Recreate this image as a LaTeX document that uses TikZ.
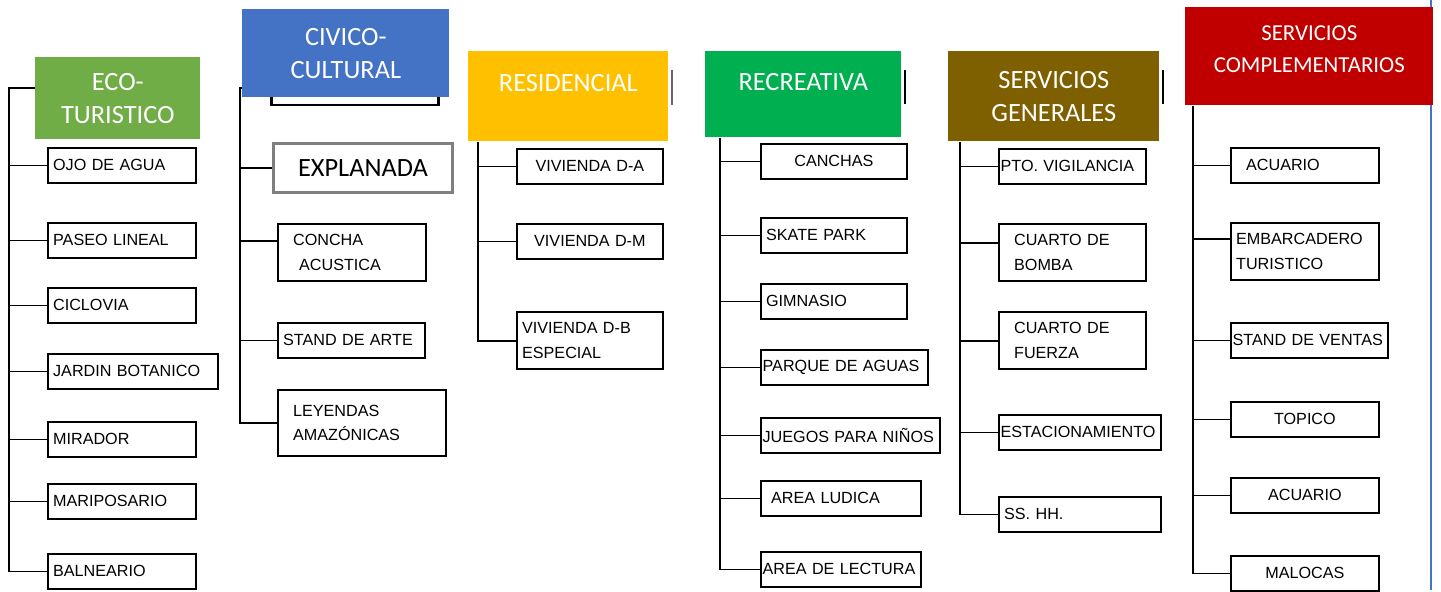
\documentclass[tikz,border=0pt]{standalone}
\usepackage{fontspec}
\usepackage{tikz}
\usetikzlibrary{positioning,calc}
\pgfdeclarelayer{bg}
\pgfsetlayers{bg,main}
\newfontfamily\headfont{Carlito}
\newfontfamily\itemfont{Liberation Sans}

\definecolor{ecogreen}{HTML}{70AD47}
\definecolor{civicblue}{HTML}{4472C4}
\definecolor{residgold}{HTML}{FFC000}
\definecolor{recregreen}{HTML}{00B050}
\definecolor{genbrown}{HTML}{7F6000}
\definecolor{compred}{HTML}{C00000}
\definecolor{expgray}{HTML}{7F7F7F}

\tikzset{
  head/.style={fill=#1, text=white, anchor=north west, align=center,
    inner sep=0pt, font=\headfont\fontsize{15}{19}\selectfont},
  item/.style={draw, line width=1pt, anchor=north west, align=left,
    inner xsep=3pt, inner ysep=1pt, minimum height=0.7cm, text width=#1,
    font=\itemfont\fontsize{9.2}{14}\selectfont},
  mid/.style={align=center},
  twoline/.style={minimum height=1.15cm},
  snug/.style={inner xsep=1pt},
  tree/.style={line width=1pt, color=black},
}

\begin{document}
\begin{tikzpicture}[x=0.02cm, y=-0.02cm]
  \begin{pgfonlayer}{bg}
    \fill[white, use as bounding box] (0,0) rectangle (1441,590);
    % what is left of the old title boxes
    \draw[line width=1.7pt] (271.5,80) rectangle (438.5,105);
    \draw[gray!80!black, line width=1pt] (672,70) -- (672,105);
    \draw[line width=1.1pt] (905,70) -- (905,104);
    \draw[line width=1.1pt] (1163,70) -- (1163,104);
    \draw[civicblue, line width=0.8pt] (1431,0) -- (1431,590);
  \end{pgfonlayer}

  % titles
  \node[head=ecogreen, minimum width=3.30cm, minimum height=1.64cm] (eco) at (35,57) {ECO-\\TURISTICO};
  \node[head=civicblue, minimum width=4.14cm, minimum height=1.76cm] (civico) at (242,9) {CIVICO-\\CULTURAL};
  \node[head=residgold, minimum width=4.00cm, minimum height=1.80cm] (resid) at (468,51) {RESIDENCIAL\\[-9pt]\strut};
  \node[head=recregreen, minimum width=3.92cm, minimum height=1.72cm] (recre) at (705,51) {RECREATIVA\\[-11pt]\strut};
  \node[head=genbrown, minimum width=4.22cm, minimum height=1.80cm] (servgen) at (948,51) {SERVICIOS\\GENERALES};
  \node[head=compred, minimum width=4.96cm, minimum height=1.96cm,
        font=\headfont\fontsize{13}{18}\selectfont] (servcomp) at (1185,7) {SERVICIOS\\COMPLEMENTARIOS\\[-15pt]\strut};

  % eco-turistico
  \node[item=2.75cm] (ojo) at (47,147) {OJO DE AGUA};
  \node[item=2.75cm] (paseo) at (47,222) {PASEO LINEAL};
  \node[item=2.75cm] (ciclovia) at (47,287) {CICLOVIA};
  \node[item=3.19cm] (jardin) at (47,353) {JARDIN BOTANICO};
  \node[item=2.75cm] (mirador) at (47,421) {MIRADOR};
  \node[item=2.75cm] (mariposario) at (47,483) {MARIPOSARIO};
  \node[item=2.75cm] (balneario) at (47,553) {BALNEARIO};

  % civico-cultural
  \node[draw=expgray, line width=1.7pt, anchor=north west, minimum width=3.58cm, minimum height=0.98cm,
        font=\headfont\fontsize{15}{18}\selectfont] (explanada) at (272,142) {EXPLANADA};
  \node[item=2.75cm, twoline] (concha) at (277,223) {\hspace*{0.2cm}CONCHA\\\hspace*{0.32cm}ACUSTICA};
  \node[item=2.73cm] (standarte) at (277,322) {STAND DE ARTE};
  \node[item=3.15cm, minimum height=1.32cm] (leyendas) at (277,389) {\hspace*{0.2cm}LEYENDAS\\\hspace*{0.2cm}AMAZÓNICAS};

  % residencial
  \node[item=2.71cm, mid] (viva) at (516,148) {VIVIENDA D-A};
  \node[item=2.71cm, mid] (vivm) at (516,223) {VIVIENDA D-M};
  \node[item=2.71cm, twoline] (vivb) at (516,311) {VIVIENDA D-B\\ESPECIAL};

  % recreativa
  \node[item=2.71cm, mid] (canchas) at (760,143) {CANCHAS};
  \node[item=2.71cm] (skate) at (760,217) {SKATE PARK};
  \node[item=2.71cm] (gimnasio) at (760,283) {GIMNASIO};
  \node[item=3.27cm, snug] (parque) at (760,349) {PARQUE~DE~AGUAS};
  \node[item=3.51cm, snug] (juegos) at (760,417) {JUEGOS~PARA~NIÑOS};
  \node[item=2.99cm] (ludica) at (760,480) {\hspace*{0.1cm}AREA LUDICA};
  \node[item=3.13cm, snug] (lectura) at (760,551) {AREA~DE~LECTURA};

  % servicios generales
  \node[item=2.87cm, snug] (vigilancia) at (998,148) {PTO.~VIGILANCIA};
  \node[item=2.73cm, twoline] (bomba) at (998,223) {\hspace*{0.2cm}CUARTO DE\\\hspace*{0.2cm}BOMBA};
  \node[item=2.73cm, twoline] (fuerza) at (998,311) {\hspace*{0.2cm}CUARTO DE\\\hspace*{0.2cm}FUERZA};
  \node[item=3.17cm, snug] (estac) at (998,414) {ESTACIONAMIENTO};
  \node[item=3.03cm] (sshh) at (998,496) {SS. HH.};

  % servicios complementarios
  \node[item=2.75cm] (acuario) at (1230,147) {\hspace*{0.2cm}ACUARIO};
  \node[item=2.75cm, twoline] (embarcadero) at (1230,222) {EMBARCADERO\\TURISTICO};
  \node[item=3.07cm, snug] (standventas) at (1230,322) {STAND~DE~VENTAS};
  \node[item=2.75cm, mid] (topico) at (1230,401) {TOPICO};
  \node[item=2.75cm, mid] (acuariob) at (1230,477) {ACUARIO};
  \node[item=2.75cm, mid] (malocas) at (1230,555) {MALOCAS};

  % the trees
  \begin{pgfonlayer}{bg}
    \coordinate (s1) at (9,88);
    \draw[tree] (eco.west |- s1) -- (s1) |- (balneario.west);
    \foreach \n in {ojo,paseo,ciclovia,jardin,mirador,mariposario}
      \draw[tree] (s1 |- \n.west) -- (\n.west);

    \coordinate (s2) at (240,88);
    \coordinate (c2) at ([yshift=0.23cm]concha.west);
    \draw[tree] (civico.west |- s2) -- (s2) |- (leyendas.west);
    \draw[tree] (s2 |- c2) -- (c2);
    \foreach \n in {explanada,standarte}
      \draw[tree] (s2 |- \n.west) -- (\n.west);

    \coordinate (s3) at ([xshift=0.2cm]resid.south west);
    \draw[tree] (s3) |- (vivb.west);
    \foreach \n in {viva,vivm}
      \draw[tree] (s3 |- \n.west) -- (\n.west);

    \coordinate (s4) at ([xshift=0.3cm]recre.south west);
    \draw[tree] (s4) |- (lectura.west);
    \foreach \n in {canchas,skate,gimnasio,parque,juegos,ludica}
      \draw[tree] (s4 |- \n.west) -- (\n.west);

    \coordinate (s5) at ([xshift=0.24cm]servgen.south west);
    \coordinate (c5) at ([yshift=0.2cm]bomba.west);
    \draw[tree] (s5) |- (sshh.west);
    \draw[tree] (s5 |- c5) -- (c5);
    \foreach \n in {vigilancia,fuerza,estac}
      \draw[tree] (s5 |- \n.west) -- (\n.west);

    \coordinate (s6) at ([xshift=0.16cm]servcomp.south west);
    \coordinate (c6) at ([yshift=0.26cm]embarcadero.west);
    \draw[tree] (s6) |- (malocas.west);
    \draw[tree] (s6 |- c6) -- (c6);
    \foreach \n in {acuario,standventas,topico,acuariob}
      \draw[tree] (s6 |- \n.west) -- (\n.west);
  \end{pgfonlayer}
\end{tikzpicture}
\end{document}
